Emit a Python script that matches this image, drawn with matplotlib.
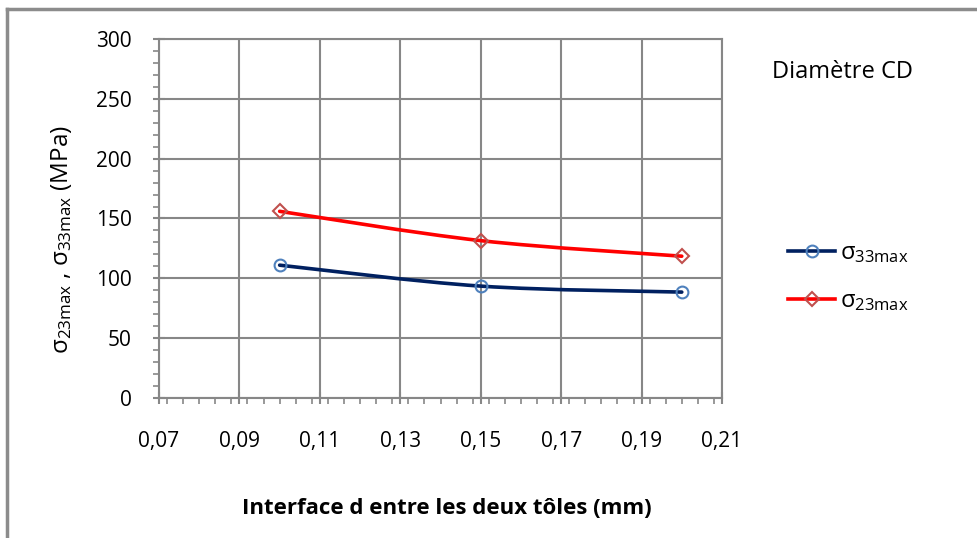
import matplotlib
matplotlib.use("Agg")
import matplotlib.pyplot as plt
import numpy as np
from matplotlib.path import Path
from matplotlib.patches import PathPatch
from matplotlib.lines import Line2D
from matplotlib.ticker import MultipleLocator, FuncFormatter

plt.rcParams['font.family'] = ['Open Sans', 'DejaVu Sans']
plt.rcParams['mathtext.fontset'] = 'custom'
plt.rcParams['mathtext.rm'] = 'Open Sans'
plt.rcParams['mathtext.it'] = 'Open Sans'

# data
interface_mm = [0.10, 0.15, 0.20]
sigma33 = [111, 93.5, 88.5]
sigma23 = [156, 131.5, 118.5]
series_labels = [r"σ$_{\mathrm{33max}}$", r"σ$_{\mathrm{23max}}$"]
x_ticks = [0.07, 0.09, 0.11, 0.13, 0.15, 0.17, 0.19, 0.21]
y_ticks = [0, 50, 100, 150, 200, 250, 300]

W, H = 978, 538
fig = plt.figure(figsize=(W/100, H/100), dpi=100)
ax = fig.add_axes([159/W, 1-398/H, (722-159)/W, (398-39)/H])

grid_c = '#878787'

def smooth_path(xs, ys):
    pts = np.column_stack([xs, ys]).astype(float)
    n = len(pts)
    verts = [pts[0]]
    codes = [Path.MOVETO]
    for i in range(n-1):
        p0 = pts[i-1] if i > 0 else pts[i]
        p1 = pts[i]
        p2 = pts[i+1]
        p3 = pts[i+2] if i+2 < n else pts[i+1]
        c1 = p1 + (p2 - p0) / 6.0
        c2 = p2 - (p3 - p1) / 6.0
        verts += [c1, c2, p2]
        codes += [Path.CURVE4]*3
    return Path(verts, codes)

ax.add_patch(PathPatch(smooth_path(interface_mm, sigma33), fill=False,
                       edgecolor='#002060', lw=2.6, zorder=3, capstyle='round'))
ax.add_patch(PathPatch(smooth_path(interface_mm, sigma23), fill=False,
                       edgecolor='#FF0000', lw=2.6, zorder=3, capstyle='round'))
ax.plot(interface_mm, sigma33, linestyle='none', marker='o', ms=8.5, mfc='none',
        mec='#4F81BD', mew=1.5, zorder=4)
ax.plot(interface_mm, sigma23, linestyle='none', marker='D', ms=7.5, mfc='none',
        mec='#C0504D', mew=1.5, zorder=4)

ax.set_xlim(0.07, 0.21)
ax.set_ylim(0, 300)
ax.set_xticks(x_ticks)
ax.set_yticks(y_ticks)
ax.xaxis.set_minor_locator(MultipleLocator(0.004))
ax.yaxis.set_minor_locator(MultipleLocator(10))
ax.xaxis.set_major_formatter(FuncFormatter(lambda v, p: f"{v:.2f}".replace('.', ',')))
ax.grid(True, which='major', color=grid_c, lw=1.5)
ax.set_axisbelow(True)
for s in ax.spines.values():
    s.set_color(grid_c)
    s.set_linewidth(1.5)
ax.tick_params(which='major', direction='inout', length=9, width=1.5, color=grid_c,
               labelsize=15)
ax.tick_params(which='minor', direction='out', length=4, width=1.2, color=grid_c)
ax.tick_params(axis='y', which='major', pad=15)
ax.tick_params(axis='x', which='major', pad=19)

fig.text(62/W, 1-240/H, r"σ$_{\mathrm{23max}}$ , σ$_{\mathrm{33max}}$ (MPa)",
         rotation=90, ha='center', va='center', fontsize=17.5)
fig.text(447/W, 1-508/H, "Interface d entre les deux tôles (mm)", ha='center',
         va='center', fontsize=16, fontweight='bold')
fig.text(772/W, 1-72/H, "Diamètre CD", ha='left', va='center', fontsize=17)

# legend
handles = [Line2D([], [], color='#002060', lw=2.6, marker='o', ms=8.5, mfc='none',
                  mec='#4F81BD', mew=1.5),
           Line2D([], [], color='#FF0000', lw=2.6, marker='D', ms=7.5, mfc='none',
                  mec='#C0504D', mew=1.5)]
fig.legend(handles, series_labels, loc='center left',
           bbox_to_anchor=(767/W, 1-277/H), frameon=False, fontsize=17,
           handlelength=2.0, labelspacing=1.0, handletextpad=0.2)

# chart area border (left and top)
fig.add_artist(Line2D([7.5/W, 7.5/W], [0, 1-9/H], color='#8c8c8c', lw=2.5,
                      transform=fig.transFigure))
fig.add_artist(Line2D([7.5/W, 1], [1-9/H, 1-9/H], color='#8c8c8c', lw=2.5,
                      transform=fig.transFigure))

fig.savefig('out.png', dpi=100)
